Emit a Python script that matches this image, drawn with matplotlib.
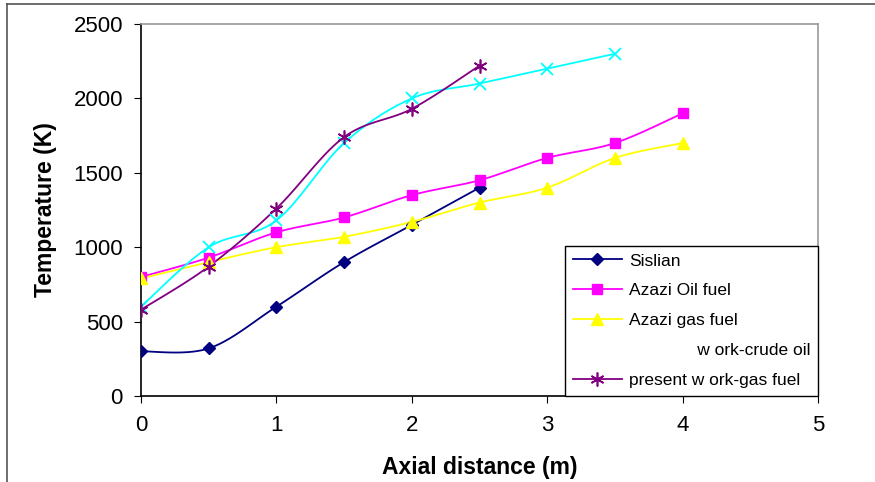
import numpy as np
import matplotlib
matplotlib.use("Agg")
import matplotlib.pyplot as plt
from matplotlib.lines import Line2D

plt.rcParams['font.family'] = ['Liberation Sans', 'DejaVu Sans']

# data
x_sislian = [0, 0.5, 1, 1.5, 2, 2.5]
t_sislian = [300, 320, 600, 900, 1150, 1400]

x_azazi_oil = [0, 0.5, 1, 1.5, 2, 2.5, 3, 3.5, 4]
t_azazi_oil = [800, 930, 1100, 1200, 1350, 1450, 1600, 1700, 1900]

x_azazi_gas = [0, 0.5, 1, 1.5, 2, 2.5, 3, 3.5, 4]
t_azazi_gas = [790, 900, 1000, 1070, 1170, 1300, 1400, 1600, 1700]

x_crude = [0, 0.5, 1, 1.5, 2, 2.5, 3, 3.5]
t_crude = [600, 1000, 1180, 1700, 2000, 2100, 2200, 2300]

x_gas = [0, 0.5, 1, 1.5, 2, 2.5]
t_gas = [580, 870, 1260, 1740, 1930, 2220]


def smooth(x, y, n=20):
    # Catmull-Rom curve through the points (like Excel's smoothed line)
    x = np.asarray(x, float)
    y = np.asarray(y, float)
    px = np.concatenate([[x[0]], x, [x[-1]]])
    py = np.concatenate([[y[0]], y, [y[-1]]])
    xs, ys = [], []
    t = np.linspace(0, 1, n)
    for i in range(1, len(px) - 2):
        for p, out in ((px, xs), (py, ys)):
            p0, p1, p2, p3 = p[i - 1], p[i], p[i + 1], p[i + 2]
            seg = 0.5 * ((2 * p1) + (-p0 + p2) * t
                         + (2 * p0 - 5 * p1 + 4 * p2 - p3) * t ** 2
                         + (-p0 + 3 * p1 - 3 * p2 + p3) * t ** 3)
            out.extend(seg)
    return xs, ys


fig = plt.figure(figsize=(8.75, 4.82), dpi=100)
ax = fig.add_axes([0.1611, 0.1784, 0.7738, 0.7718])

series = [
    (x_sislian, t_sislian, "#000080", "D", 6, "Sislian"),
    (x_azazi_oil, t_azazi_oil, "#FF00FF", "s", 7, "Azazi Oil fuel"),
    (x_azazi_gas, t_azazi_gas, "#FFFF00", "^", 8, "Azazi gas fuel"),
    (x_crude, t_crude, "#00FFFF", "x", 9, None),
    (x_gas, t_gas, "#800080", "*", 0, "present w ork-gas fuel"),
]

handles = []
for x, y, c, m, ms, lab in series:
    sx, sy = smooth(x, y)
    ax.plot(sx, sy, color=c, lw=1.3, zorder=2)
    if m == "*":
        ax.plot(x, y, ls="none", marker=(6, 2, 0), ms=10, mec=c, mew=1.2, zorder=3)
        h = Line2D([], [], color=c, lw=1.3, marker=(6, 2, 0), ms=10, mec=c, mew=1.2)
    elif m == "x":
        ax.plot(x, y, ls="none", marker="x", ms=ms, mec=c, mew=1.3, zorder=3)
        h = Line2D([], [], color="none")
        lab = " " * 14 + "w ork-crude oil"
    else:
        ax.plot(x, y, ls="none", marker=m, ms=ms, color=c, zorder=3)
        h = Line2D([], [], color=c, lw=1.3, marker=m, ms=ms)
    handles.append((h, lab))

ax.set_xlim(0, 5)
ax.set_ylim(0, 2500)
ax.set_xticks([0, 1, 2, 3, 4, 5])
ax.set_yticks([0, 500, 1000, 1500, 2000, 2500])
ax.tick_params(axis="both", direction="out", length=5, labelsize=16, color="black")
ax.tick_params(axis="x", pad=9)
ax.tick_params(axis="y", pad=8)
ax.spines["left"].set_color("black")
ax.spines["bottom"].set_color("black")
ax.spines["top"].set_color("#999999")
ax.spines["right"].set_color("#999999")
for s in ax.spines.values():
    s.set_linewidth(1.2)

ax.set_xlabel("Axial distance (m)", fontsize=16.5, fontweight="bold", labelpad=14)
ax.set_ylabel("Temperature (K)", fontsize=16.5, fontweight="bold", labelpad=12)

leg = ax.legend([h for h, _ in handles], [l for _, l in handles],
                loc="lower right", bbox_to_anchor=(1.0, 0.0), borderaxespad=0,
                fontsize=12.5, fancybox=False, framealpha=1, edgecolor="black",
                handlelength=2.8, handletextpad=0.4, labelspacing=0.85, borderpad=0.45)
leg.get_frame().set_linewidth(1.0)

# outer border lines of the original picture
fig.add_artist(Line2D([0.008, 0.008], [0, 0.992], color="#555555", lw=1.2))
fig.add_artist(Line2D([0.008, 1], [0.992, 0.992], color="#555555", lw=1.2))

fig.savefig("out.png", dpi=100)
